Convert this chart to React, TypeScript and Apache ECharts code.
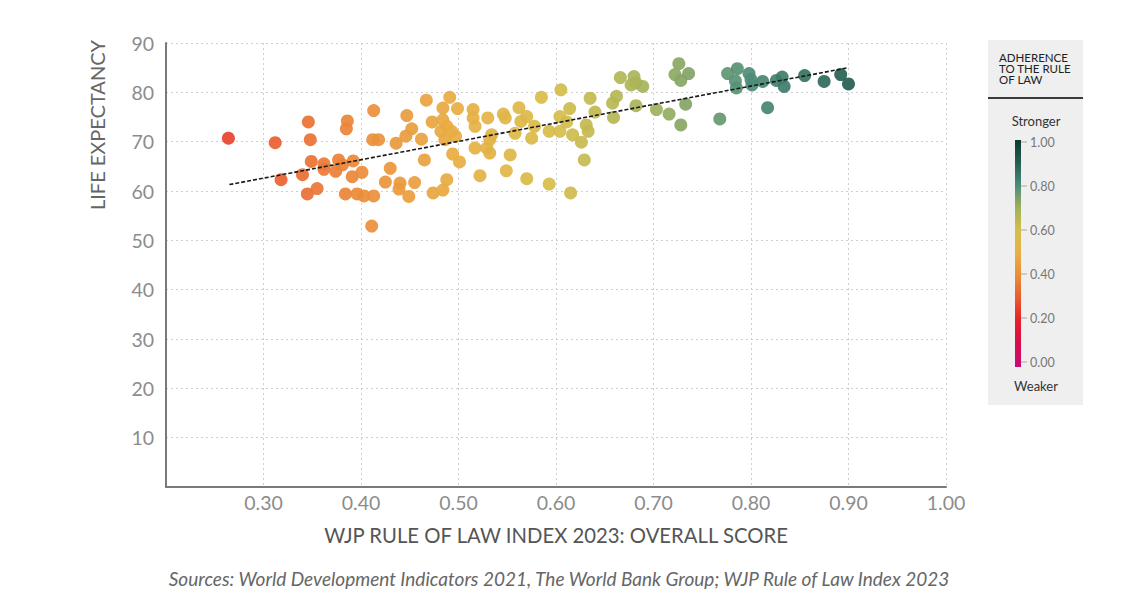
import React, { useEffect, useRef } from "react";
import * as echarts from "echarts";

// WJP Rule of Law Index 2023 overall score vs. life expectancy
const POINTS: [number, number][] = [
  [0.264, 70.7], [0.312, 69.8], [0.318, 62.3], [0.340, 63.3], [0.345, 59.4],
  [0.346, 74.0], [0.348, 70.4], [0.349, 66.0], [0.355, 60.5], [0.362, 65.5],
  [0.362, 64.4], [0.374, 64.0], [0.377, 66.3], [0.381, 65.3], [0.384, 59.4],
  [0.386, 74.2], [0.385, 72.6], [0.392, 66.1], [0.391, 62.9], [0.396, 59.4],
  [0.401, 63.8], [0.403, 59.0], [0.411, 52.9], [0.413, 59.0], [0.413, 76.3],
  [0.412, 70.4], [0.418, 70.4], [0.425, 61.8], [0.430, 64.6], [0.436, 69.7],
  [0.439, 60.4], [0.440, 61.6], [0.446, 71.1], [0.447, 75.3], [0.449, 58.9],
  [0.452, 72.6], [0.455, 61.7], [0.462, 70.5], [0.465, 66.3], [0.467, 78.4],
  [0.473, 74.0], [0.474, 59.6], [0.484, 60.2], [0.484, 76.8], [0.484, 74.4],
  [0.488, 73.1], [0.488, 62.3], [0.482, 72.1], [0.486, 70.4], [0.491, 79.0],
  [0.493, 72.1], [0.497, 71.1], [0.499, 76.7], [0.494, 67.5], [0.501, 65.9],
  [0.515, 76.5], [0.515, 74.8], [0.517, 73.1], [0.530, 74.8], [0.534, 71.4],
  [0.532, 70.4], [0.517, 68.7], [0.529, 68.7], [0.532, 67.7], [0.522, 63.1],
  [0.546, 75.6], [0.548, 74.8], [0.562, 76.9], [0.564, 74.1], [0.570, 75.1],
  [0.578, 73.1], [0.558, 71.7], [0.575, 70.7], [0.553, 67.3], [0.549, 64.1],
  [0.570, 62.5], [0.585, 79.0], [0.605, 80.5], [0.593, 72.1], [0.604, 72.1],
  [0.604, 75.1], [0.614, 76.7], [0.611, 74.0], [0.617, 71.4], [0.626, 69.9],
  [0.629, 66.3], [0.631, 73.4], [0.633, 72.1], [0.635, 78.8], [0.640, 76.0],
  [0.593, 61.4], [0.615, 59.6],
  [0.658, 77.8], [0.662, 79.2], [0.659, 74.9], [0.666, 83.0], [0.680, 83.2],
  [0.682, 81.9], [0.689, 81.2], [0.677, 81.5], [0.682, 77.3], [0.703, 76.5],
  [0.716, 75.6], [0.728, 73.4], [0.733, 77.6], [0.726, 85.8], [0.722, 83.6],
  [0.728, 82.4], [0.736, 83.8], [0.768, 74.6], [0.776, 83.8], [0.786, 84.8],
  [0.784, 82.3], [0.785, 80.9], [0.798, 83.8], [0.801, 81.5], [0.800, 82.6],
  [0.812, 82.2], [0.817, 76.9], [0.826, 82.4], [0.832, 83.1], [0.834, 81.2],
  [0.855, 83.4], [0.875, 82.2], [0.892, 83.6], [0.900, 81.7],
];

const TREND: [number, number][] = [
  [0.265, 61.3],
  [0.9, 85.0],
];

// colour scale from 0.00 (weaker) to 1.00 (stronger), evenly spaced
const SCALE_COLORS = [
  "#c80c78", "#d80c4a", "#e41e2a", "#ea5830", "#eb8c38", "#e8ae42",
  "#d6be4a", "#9fb25c", "#4c8c78", "#245e50", "#0d3a30",
];
const LEGEND_TICKS = [1.0, 0.8, 0.6, 0.4, 0.2, 0.0];

const FONT = "Lato, 'Open Sans', sans-serif";

export default function App() {
  const ref = useRef<HTMLDivElement>(null);

  useEffect(() => {
    if (!ref.current) return;
    const chart = echarts.init(ref.current, null, { renderer: "svg" });

    const barX = 1015;
    const barTop = 140;
    const barH = 227;
    const tickY = (v: number) => 142 + (1 - v) * 220;

    const n = SCALE_COLORS.length;
    // top of the bar = 1.00 (stronger), bottom = 0.00 (weaker); offsets ascending
    const gradStops = SCALE_COLORS.map((_, i) => ({
      offset: i / (n - 1),
      color: SCALE_COLORS[n - 1 - i],
    }));

    const legendGraphics: any[] = [
      {
        type: "rect",
        shape: { x: 988, y: 40, width: 95, height: 365 },
        style: { fill: "#efefef" },
        silent: true,
      },
      {
        type: "text",
        x: 999,
        y: 52,
        style: {
          text: "ADHERENCE\nTO THE RULE\nOF LAW",
          font: `11.5px ${FONT}`,
          lineHeight: 11,
          fill: "#222",
          align: "left",
          verticalAlign: "top",
        },
      },
      {
        type: "line",
        shape: { x1: 988, y1: 98, x2: 1083, y2: 98 },
        style: { stroke: "#3a3a3a", lineWidth: 2 },
      },
      {
        type: "text",
        x: 1036,
        y: 121,
        style: {
          text: "Stronger",
          font: `13px ${FONT}`,
          fill: "#333",
          align: "center",
          verticalAlign: "middle",
        },
      },
      {
        type: "rect",
        shape: { x: barX, y: barTop, width: 6, height: barH },
        style: {
          fill: new echarts.graphic.LinearGradient(0, 0, 0, 1, gradStops),
        },
      },
      {
        type: "text",
        x: 1036,
        y: 386,
        style: {
          text: "Weaker",
          font: `13px ${FONT}`,
          fill: "#333",
          align: "center",
          verticalAlign: "middle",
        },
      },
    ];
    LEGEND_TICKS.forEach((v) => {
      legendGraphics.push({
        type: "line",
        shape: { x1: barX + 6, y1: tickY(v), x2: barX + 12, y2: tickY(v) },
        style: { stroke: "#aaa", lineWidth: 1 },
      });
      legendGraphics.push({
        type: "text",
        x: 1030,
        y: tickY(v),
        style: {
          text: v.toFixed(2),
          font: `12.5px ${FONT}`,
          fill: "#777",
          align: "left",
          verticalAlign: "middle",
        },
      });
    });

    const option: any = {
      animation: false,
      backgroundColor: "#ffffff",
      grid: { left: 166, right: 180, top: 43, bottom: 117, containLabel: false },
      xAxis: {
        type: "value",
        min: 0.2,
        max: 1.0,
        interval: 0.1,
        name: "WJP RULE OF LAW INDEX 2023: OVERALL SCORE",
        nameLocation: "middle",
        nameGap: 38,
        nameTextStyle: { fontFamily: FONT, fontSize: 20.3, color: "#555" },
        axisLine: { show: true, lineStyle: { color: "#7a7a7a", width: 2 } },
        axisTick: { show: false },
        axisLabel: {
          showMinLabel: false,
          margin: 5,
          fontFamily: FONT,
          fontSize: 19.5,
          color: "#8c8c8c",
          formatter: (v: number) => v.toFixed(2),
        },
        splitLine: {
          show: true,
          lineStyle: { color: "#cfcfcf", type: [2, 3], width: 1 },
        },
      },
      yAxis: {
        type: "value",
        min: 0,
        max: 90,
        interval: 10,
        axisLine: { show: true, lineStyle: { color: "#7a7a7a", width: 2 } },
        axisTick: { show: false },
        axisLabel: {
          showMinLabel: false,
          margin: 12,
          fontFamily: FONT,
          fontSize: 19.5,
          color: "#8c8c8c",
        },
        splitLine: {
          show: true,
          lineStyle: { color: "#cfcfcf", type: [2, 3], width: 1 },
        },
      },
      visualMap: {
        show: false,
        type: "continuous",
        dimension: 0,
        min: 0,
        max: 1,
        seriesIndex: 0,
        inRange: { color: SCALE_COLORS },
      },
      series: [
        {
          type: "scatter",
          data: POINTS,
          symbol: "circle",
          symbolSize: 13,
          itemStyle: { opacity: 0.92 },
          z: 2,
        },
        {
          type: "line",
          data: TREND,
          symbol: "none",
          silent: true,
          lineStyle: { color: "#1a1a1a", width: 1.6, type: [4, 2] },
          z: 3,
        },
      ],
      graphic: [
        {
          type: "text",
          x: 97,
          y: 125,
          rotation: Math.PI / 2,
          style: {
            text: "LIFE EXPECTANCY",
            font: `20px ${FONT}`,
            fill: "#666",
            align: "center",
            verticalAlign: "middle",
          },
        },
        {
          type: "text",
          x: 559,
          y: 578,
          style: {
            text:
              "Sources: World Development Indicators 2021, The World Bank Group; WJP Rule of Law Index 2023",
            font: `italic 19px ${FONT}`,
            fill: "#666",
            align: "center",
            verticalAlign: "middle",
          },
        },
        ...legendGraphics,
      ],
    };

    chart.setOption(option);
    return () => chart.dispose();
  }, []);

  return (
    <div
      ref={ref}
      style={{ position: "fixed", left: 0, top: 0, width: 1126, height: 604 }}
    />
  );
}
